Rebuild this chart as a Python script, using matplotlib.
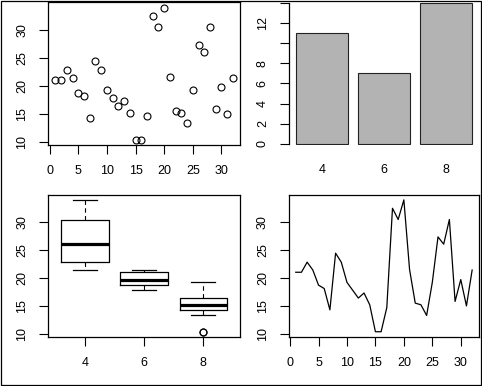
import numpy as np
import matplotlib
matplotlib.use("Agg")
import matplotlib.pyplot as plt
from matplotlib.patches import Rectangle

# mtcars mpg and cyl, in row order
mpg = [21.0, 21.0, 22.8, 21.4, 18.7, 18.1, 14.3, 24.4, 22.8, 19.2, 17.8,
       16.4, 17.3, 15.2, 10.4, 10.4, 14.7, 32.4, 30.4, 33.9, 21.5, 15.5,
       15.2, 13.3, 19.2, 27.3, 26.0, 30.4, 15.8, 19.7, 15.0, 21.4]
cyl = [6, 6, 4, 6, 8, 6, 8, 4, 4, 6, 6, 8, 8, 8, 8, 8, 8, 4, 4, 4, 4, 8,
       8, 8, 8, 4, 4, 4, 8, 6, 8, 4]
cyl_levels = [4, 6, 8]

mpg = np.array(mpg)
cyl = np.array(cyl)
idx = np.arange(1, len(mpg) + 1)
cyl_counts = [int(np.sum(cyl == c)) for c in cyl_levels]

plt.rcParams["font.family"] = ["Liberation Sans", "DejaVu Sans"]
plt.rcParams["font.size"] = 9

W, H = 482, 386
fig = plt.figure(figsize=(W / 100, H / 100), dpi=100)


def px_axes(left, top, right, bottom):
    return fig.add_axes([left / W, (H - bottom) / H, (right - left) / W, (bottom - top) / H])


def r_lim(vals):
    lo, hi = np.min(vals), np.max(vals)
    d = (hi - lo) * 0.04
    return lo - d, hi + d


def style(ax, box=True):
    for s in ax.spines.values():
        s.set_linewidth(0.9)
        s.set_color("black")
        s.set_visible(box)
    ax.tick_params(length=6.3, width=0.8, pad=8.0, colors="black")
    ax.tick_params(axis="y", labelrotation=90)
    for t in ax.get_yticklabels():
        t.set_va("center")


def fivenum(v):
    v = np.sort(v)
    n = len(v)
    n4 = np.floor((n + 3) / 2) / 2
    d = np.array([1, n4, (n + 1) / 2, n + 1 - n4, n])
    return 0.5 * (v[np.floor(d - 1).astype(int)] + v[np.ceil(d - 1).astype(int)])


LX0, LX1 = 48.3, 240.0
RX0, RX1 = 288.7, 479.2
TY0, TY1 = 2.4, 145.0
BY0, BY1 = 194.6, 337.0

# scatter
ax1 = px_axes(LX0, TY0, LX1, TY1)
ax1.plot(idx, mpg, "o", mfc="none", mec="black", ms=5.0, mew=0.8)
ax1.set_xlim(r_lim(idx))
ax1.set_ylim(r_lim(mpg))
ax1.set_xticks([0, 5, 10, 15, 20, 25, 30])
ax1.set_yticks([10, 15, 20, 25, 30])
style(ax1)

# bar chart
ax2 = px_axes(RX0, TY0, RX1, TY1)
bx = [0.7, 1.9, 3.1]
ax2.bar(bx, cyl_counts, width=1.0, color="#B3B3B3", edgecolor="#222222", linewidth=0.8)
ax2.set_xlim(0.064, 3.736)
ax2.set_ylim(-0.11, 14.02)
ax2.set_xticks(bx)
ax2.set_xticklabels([str(c) for c in cyl_levels])
ax2.set_yticks([0, 2, 4, 6, 8, 10, 12, 14])
ax2.set_yticklabels(["0", "2", "4", "6", "8", "", "12", ""])
style(ax2, box=False)
ax2.spines["left"].set_visible(True)
ax2.spines["left"].set_bounds(0, 14)
ax2.tick_params(axis="x", length=0, pad=8.0 + 6.3 * 0.9)

# boxplot
ax3 = px_axes(LX0, BY0, LX1, BY1)
stats = []
for c in cyl_levels:
    v = mpg[cyl == c]
    f = fivenum(v)
    iqr = f[3] - f[1]
    inside = v[(v >= f[1] - 1.5 * iqr) & (v <= f[3] + 1.5 * iqr)]
    stats.append(dict(med=f[2], q1=f[1], q3=f[3], whislo=inside.min(),
                      whishi=inside.max(),
                      fliers=v[(v < f[1] - 1.5 * iqr) | (v > f[3] + 1.5 * iqr)]))
ax3.bxp(stats, positions=[1, 2, 3], widths=0.8, capwidths=0.4,
        boxprops=dict(color="black", linewidth=0.9),
        whiskerprops=dict(color="black", linewidth=0.8, linestyle=(0, (4, 3))),
        capprops=dict(color="black", linewidth=0.9),
        medianprops=dict(color="black", linewidth=2.3, solid_capstyle="butt"),
        flierprops=dict(marker="o", mfc="none", mec="black", ms=5.0, mew=0.8))
ax3.set_xlim(0.38, 3.62)
ax3.set_ylim(r_lim(mpg))
ax3.set_xticks([1, 2, 3])
ax3.set_xticklabels([str(c) for c in cyl_levels])
ax3.set_yticks([10, 15, 20, 25, 30])
style(ax3)

# line plot
ax4 = px_axes(RX0, BY0, RX1, BY1)
ax4.plot(idx, mpg, color="black", linewidth=0.9)
ax4.set_xlim(r_lim(idx))
ax4.set_ylim(r_lim(mpg))
ax4.set_xticks([0, 5, 10, 15, 20, 25, 30])
ax4.set_yticks([10, 15, 20, 25, 30])
style(ax4)

# outer frame
fig.patches.append(Rectangle((0.5 / W, 1.0 / H), 480.0 / W, 384.5 / H,
                             transform=fig.transFigure, fill=False,
                             edgecolor="black", linewidth=0.9))

fig.savefig("out.png", dpi=100)
